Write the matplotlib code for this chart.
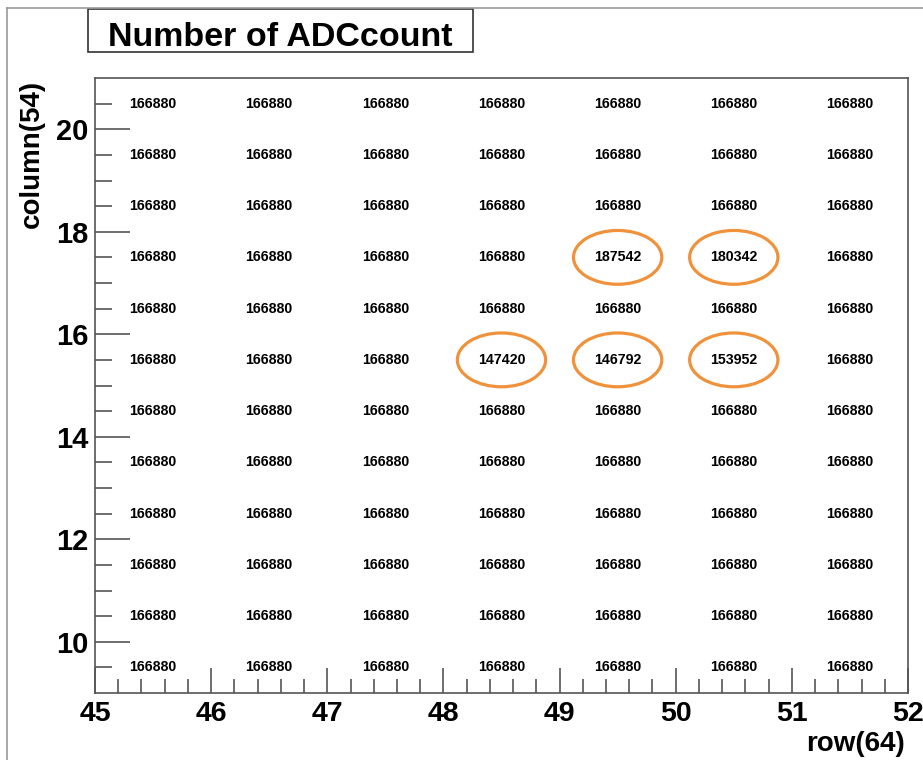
import numpy as np
import matplotlib.pyplot as plt
from matplotlib.patches import Ellipse

# data
rows = [45.5, 46.5, 47.5, 48.5, 49.5, 50.5, 51.5]
columns = [9.5, 10.5, 11.5, 12.5, 13.5, 14.5, 15.5, 16.5, 17.5, 18.5, 19.5, 20.5]
base_count = 166880
# cells that differ from the base value: (row, column, count)
special_rows = [49.5, 50.5, 48.5, 49.5, 50.5]
special_cols = [17.5, 17.5, 15.5, 15.5, 15.5]
special_counts = [187542, 180342, 147420, 146792, 153952]

counts = np.full((len(columns), len(rows)), base_count)
for r, c, v in zip(special_rows, special_cols, special_counts):
    counts[columns.index(c), rows.index(r)] = v

plt.rcParams['font.family'] = ['Liberation Sans', 'DejaVu Sans']
plt.rcParams['font.weight'] = 'bold'

fig = plt.figure(figsize=(9.23, 7.60), dpi=100)
ax = fig.add_axes([95/923, 67/760, 813/923, 615/760])

for j, c in enumerate(columns):
    for i, r in enumerate(rows):
        ax.text(r, c, str(counts[j, i]), ha='center', va='center',
                fontsize=10.2, fontweight='bold', color='black')

# orange circles around the odd cells
for r, c in zip(special_rows, special_cols):
    ax.add_patch(Ellipse((r, c), 0.76, 1.05, fill=False,
                         edgecolor='#F0923C', linewidth=2.3))

ax.set_xlim(45, 52)
ax.set_ylim(9, 21)
ax.set_xticks(np.arange(45, 53, 1))
ax.set_xticks(np.arange(45, 52.01, 0.2), minor=True)
ax.set_yticks(np.arange(10, 21, 2))
ax.set_yticks(np.arange(9.5, 21, 0.5), minor=True)

for s in ax.spines.values():
    s.set_color('#555555')
    s.set_linewidth(1.2)

ax.tick_params(axis='x', which='major', direction='in', length=18, width=1.2,
               color='#555555', labelsize=20.5, pad=6)
ax.tick_params(axis='x', which='minor', direction='in', length=10, width=1.2,
               color='#555555')
ax.tick_params(axis='y', which='major', direction='in', length=25, width=1.2,
               color='#555555', labelsize=21, pad=5)
ax.tick_params(axis='y', which='minor', direction='in', length=12, width=1.2,
               color='#555555')
for lab in ax.get_xticklabels() + ax.get_yticklabels():
    lab.set_fontweight('bold')

fig.text(905/923, 1 - 757/760, 'row(64)', ha='right', va='bottom',
         fontsize=20, fontweight='bold')
fig.text(32/923, 1 - 80/760, 'column(54)', ha='center', va='top',
         rotation=90, fontsize=20, fontweight='bold')

# title box
fig.text((88 + 473) / 2 / 923, 1 - 46/760, 'Number of ADCcount', ha='center',
         va='baseline', fontsize=24.5, fontweight='bold')
fig.add_artist(plt.Rectangle((88/923, 1 - 52/760), 385/923, 43/760,
                             transform=fig.transFigure, fill=False,
                             edgecolor='#333333', linewidth=1.2))

# canvas frame
fig.add_artist(plt.Line2D([7/923, 7/923], [0, 1 - 8/760], transform=fig.transFigure,
                          color='#999999', linewidth=1.2))
fig.add_artist(plt.Line2D([7/923, 1], [1 - 8/760, 1 - 8/760], transform=fig.transFigure,
                          color='#999999', linewidth=1.2))

fig.savefig('out.png', dpi=100)
